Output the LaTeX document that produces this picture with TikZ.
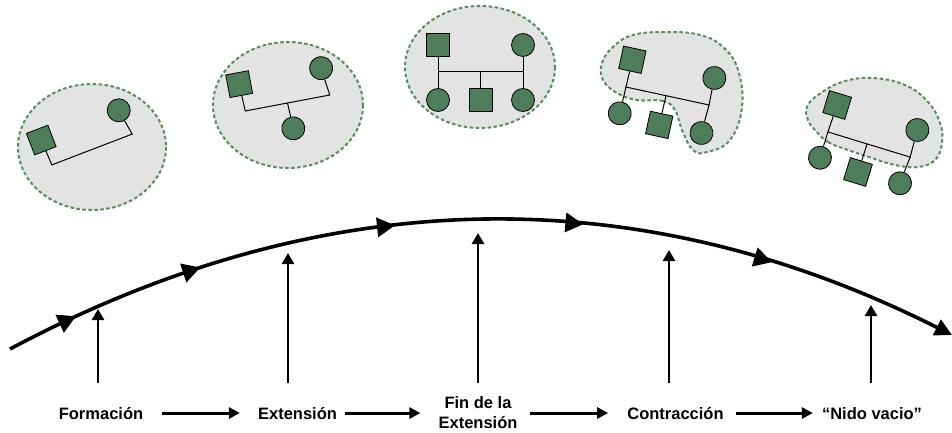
\documentclass[tikz,border=0pt]{standalone}
\usepackage{fontspec}
\setmainfont{Liberation Sans}
\usetikzlibrary{arrows.meta, decorations.markings, calc}
\definecolor{famgreen}{HTML}{4E7E59}
\definecolor{blobgreen}{HTML}{5A8C5E}
\definecolor{blobgray}{HTML}{E3E3E3}

\tikzset{
  blob/.style={fill=blobgray, draw=blobgreen, line width=2pt, dash pattern=on 3.5pt off 2.5pt},
  male/.style={rectangle, draw=black, fill=famgreen, line width=0.8pt, minimum size=23pt, inner sep=0pt, transform shape},
  female/.style={circle, draw=black, fill=famgreen, line width=0.8pt, minimum size=23pt, inner sep=0pt, transform shape},
  kin/.style={line width=1pt},
  stage/.style={font=\fontsize{16.5}{20}\selectfont\bfseries, inner sep=0pt, align=center},
  flow/.style={line width=3pt, -{Triangle[length=11pt,width=11pt]}},
  rise/.style={line width=2.6pt, -{Triangle[length=11pt,width=12pt]}},
  midtip/.style={decoration={markings,
      mark=at position 0.075 with {\arrow{Triangle[length=18pt,width=19pt]}},
      mark=at position 0.211 with {\arrow{Triangle[length=18pt,width=19pt]}},
      mark=at position 0.414 with {\arrow{Triangle[length=18pt,width=19pt]}},
      mark=at position 0.606 with {\arrow{Triangle[length=18pt,width=19pt]}},
      mark=at position 0.802 with {\arrow{Triangle[length=18pt,width=19pt]}}},
    postaction={decorate}}
}

\begin{document}
\begin{tikzpicture}[x=1pt, y=-1pt]
  \useasboundingbox (0,0) rectangle (952,433);

  % Formación
  \draw[blob] (92,147) ellipse [x radius=74, y radius=63];
  \begin{scope}[shift={(92,149.5)}, rotate=21]
    \node[male] (f1dad) at (-44,-27) {};
    \node[female] (f1mom) at (39,-27) {};
    \coordinate (f1l) at (-43,0);
    \coordinate (f1r) at (43,0);
    \draw[kin] (f1dad) -- (f1l) -- (f1r) -- (f1mom);
  \end{scope}

  % Extensión
  \draw[blob] (288,105) ellipse [x radius=75, y radius=63];
  \begin{scope}[shift={(287.5,103)}, rotate=10.7]
    \node[male] (f2dad) at (-44,-27.5) {};
    \node[female] (f2mom) at (39.5,-28) {};
    \node[female] (f2k1) at (1,26) {};
    \coordinate (f2l) at (-43,0);
    \coordinate (f2r) at (43,0);
    \coordinate (f2m) at (0,0);
    \draw[kin] (f2dad) -- (f2l) -- (f2r) -- (f2mom);
    \draw[kin] (f2m) -- (f2k1);
  \end{scope}

  % Fin de la extensión
  \draw[blob] (480,67) ellipse [x radius=75, y radius=61];
  \begin{scope}[shift={(480.5,72)}]
    \node[male] (f3dad) at (-42.5,-27) {};
    \node[female] (f3mom) at (42.5,-27) {};
    \node[female] (f3k1) at (-42.5,28) {};
    \node[male] (f3k2) at (0,28) {};
    \node[female] (f3k3) at (42.5,28) {};
    \coordinate (f3l) at (-42.5,0);
    \coordinate (f3r) at (42.5,0);
    \coordinate (f3m) at (0,0);
    \draw[kin] (f3dad) -- (f3l) -- (f3r) -- (f3mom);
    \draw[kin] (f3l) -- (f3k1);
    \draw[kin] (f3m) -- (f3k2);
    \draw[kin] (f3r) -- (f3k3);
  \end{scope}

  % Contracción
  \draw[blob] plot[smooth cycle, tension=0.7] coordinates {
    (637,100) (663,101) (675,110) (682,130) (693,150) (707,152) (730,140)
    (742,107) (738,70) (723,47) (700,35) (667,32) (633,35) (613,47)
    (602,63) (603,80) (617,93)};
  \begin{scope}[shift={(667.5,96)}, rotate=-12.2]
    \node[male] (f4dad) at (-42,-28) {};
    \node[female] (f4mom) at (42,-27.5) {};
    \node[female] (f4k1) at (-43,27) {};
    \node[male] (f4k2) at (-2,30) {};
    \node[female] (f4k3) at (41,29) {};
    \coordinate (f4l) at (-42.5,0);
    \coordinate (f4r) at (42.5,0);
    \coordinate (f4m) at (-1.5,0);
    \draw[kin] (f4dad) -- (f4l) -- (f4r) -- (f4mom);
    \draw[kin] (f4l) -- (f4k1);
    \draw[kin] (f4m) -- (f4k2);
    \draw[kin] (f4r) -- (f4k3);
  \end{scope}

  % Nido vacio
  \draw[blob] plot[smooth cycle, tension=0.7] coordinates {
    (815,130) (828,142) (848,150) (872,158) (895,165) (918,167) (935,160)
    (942,143) (940,123) (928,102) (905,85) (872,78) (842,82) (818,95)
    (807,107) (808,120)};
  \begin{scope}[shift={(869,144.5)}, rotate=-17]
    \node[male] (f5dad) at (-42,-28.5) {};
    \node[female] (f5mom) at (42,-28) {};
    \node[female] (f5k1) at (-43,27) {};
    \node[male] (f5k2) at (-2.5,29.5) {};
    \node[female] (f5k3) at (41,28) {};
    \coordinate (f5l) at (-43,0);
    \coordinate (f5r) at (43,0);
    \coordinate (f5m) at (-2,0);
    \draw[kin] (f5dad) -- (f5l) -- (f5r) -- (f5mom);
    \draw[kin] (f5l) -- (f5k1);
    \draw[kin] (f5m) -- (f5k2);
    \draw[kin] (f5r) -- (f5k3);
  \end{scope}

  % life cycle curve
  \draw[line width=3.6pt, -{Triangle[length=17pt,width=17pt]}, midtip]
    (10,349) .. controls (324,181.7) and (638,177) .. (952,335);

  % stages
  \node[stage, anchor=base] (s1) at (101,419) {Formación};
  \node[stage, anchor=base] (s2) at (297.5,419) {Extensión};
  \node[stage] (s3) at (478,413) {Fin de la\\Extensión};
  \node[stage, anchor=base] (s4) at (675.5,419) {Contracción};
  \node[stage, anchor=base] (s5) at (872,419) {“Nido vacio”};

  \draw[flow, shorten <=19pt, shorten >=18pt] (s1.east) -- (s1.east -| s2.west);
  \draw[flow, shorten <=8pt, shorten >=18pt] (s2.east) -- (s2.east -| s3.west);
  \draw[flow, shorten <=12pt, shorten >=19pt] (s3.east) -- (s3.east -| s4.west);
  \draw[flow, shorten <=12pt, shorten >=9pt] (s4.east) -- (s4.east -| s5.west);

  % pointers up to the curve
  \coordinate (b1) at (98,383);  \coordinate (t1) at (98,309);
  \coordinate (b2) at (288,383); \coordinate (t2) at (288,253);
  \coordinate (b3) at (478,383); \coordinate (t3) at (478,233);
  \coordinate (b4) at (669,383); \coordinate (t4) at (669,250);
  \coordinate (b5) at (871,383); \coordinate (t5) at (871,305);
  \draw[rise] (b1) -- (t1);
  \draw[rise] (b2) -- (t2);
  \draw[rise] (b3) -- (t3);
  \draw[rise] (b4) -- (t4);
  \draw[rise] (b5) -- (t5);
\end{tikzpicture}
\end{document}
